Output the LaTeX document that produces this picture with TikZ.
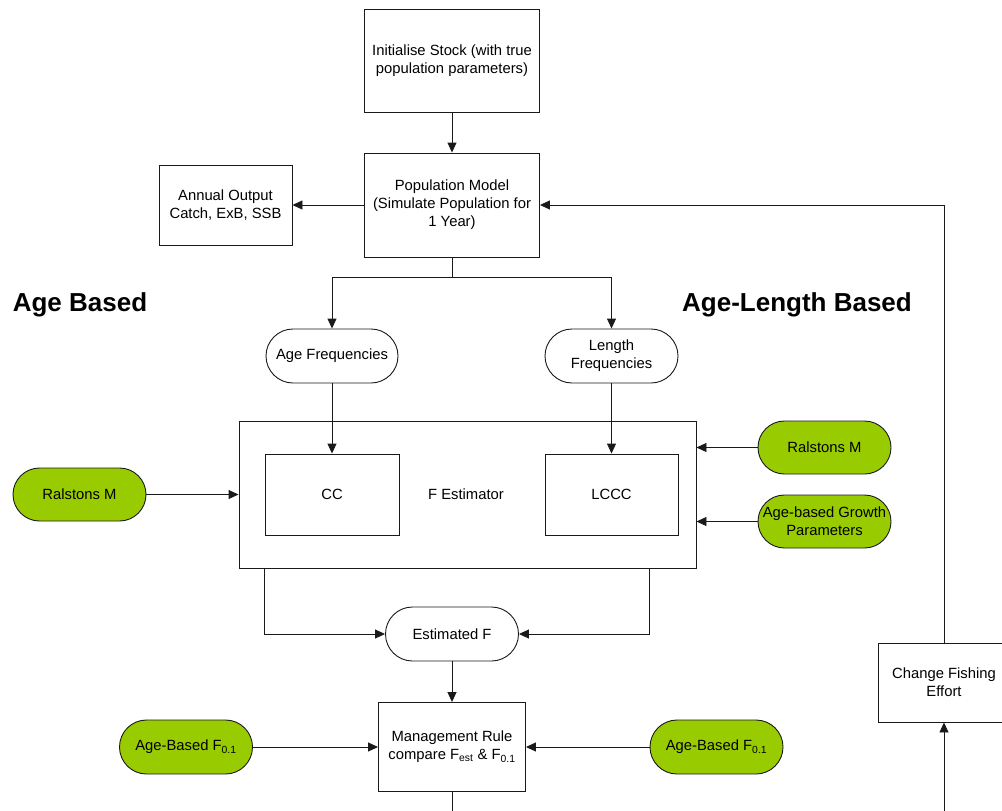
\documentclass[tikz,border=0pt]{standalone}
\usepackage{fontspec}
\setmainfont{Liberation Sans}
\usetikzlibrary{arrows.meta,calc}
\definecolor{leaf}{HTML}{99CC00}
\definecolor{ink}{HTML}{1A1A1A}
\tikzset{
  every node/.style={font=\fontsize{14.8}{18}\selectfont, align=center, inner sep=0pt},
  procbox/.style={draw=ink, line width=0.9pt, rectangle, fill=white},
  pill/.style={draw=ink, line width=0.9pt, rectangle, rounded corners=#1, fill=white},
  gpill/.style={pill=#1, fill=leaf},
  link/.style={draw=ink, line width=0.9pt},
  arr/.style={link, -{Triangle[length=10pt,width=9pt]}},
  heading/.style={font=\fontsize{26}{30}\selectfont\bfseries, anchor=base}
}
\begin{document}
\begin{tikzpicture}[x=1pt,y=-1pt]
\useasboundingbox (0,0) rectangle (1002,811);
\clip (0,0) rectangle (1002,811);

% main column
\node[procbox, minimum width=175pt, minimum height=103pt] (init) at (452,60.5)
  {Initialise Stock (with true\\population parameters)};
\node[procbox, minimum width=175pt, minimum height=104pt] (pop) at (452,205)
  {Population Model\\(Simulate Population for\\1 Year)};
\node[procbox, minimum width=133pt, minimum height=80pt] (annual) at (225.5,205)
  {Annual Output\\Catch, ExB, SSB};

% section headings
\node[heading] (hage) at (80,311) {Age Based};
\node[heading] (hlen) at (797,311) {Age-Length Based};

% frequency data
\node[pill=27pt, minimum width=132pt, minimum height=54pt] (agefreq) at (332,356) {Age Frequencies};
\node[pill=27pt, minimum width=133pt, minimum height=54pt] (lenfreq) at (611.5,356) {Length\\Frequencies};

% estimator block
\node[procbox, minimum width=457pt, minimum height=147pt] (fest) at (467.5,494.5) {};
\node (festlabel) at (466,494) {F Estimator};
\node[procbox, minimum width=134pt, minimum height=81pt] (cc) at (332,494.5) {CC};
\node[procbox, minimum width=133pt, minimum height=81pt] (lccc) at (611.5,494.5) {LCCC};

% external inputs
\node[gpill=26.5pt, minimum width=133pt, minimum height=53pt] (ralL) at (79.5,494.5) {Ralstons M};
\node[gpill=26.5pt, minimum width=133pt, minimum height=53pt] (ralR) at (824.5,447.5) {Ralstons M};
\node[gpill=26.5pt, minimum width=133pt, minimum height=53pt] (growth) at (824.5,521.5) {Age-based Growth\\Parameters};

% estimate and management
\node[pill=27pt, minimum width=133pt, minimum height=54pt] (estf) at (452,634) {Estimated F};
\node[procbox, minimum width=147pt, minimum height=89pt] (mgmt) at (452,747)
  {Management Rule\\compare F\textsubscript{est} \& F\textsubscript{0.1}};
\node[gpill=27pt, minimum width=133pt, minimum height=54pt] (f01L) at (186,747) {Age-Based F\textsubscript{0.1}};
\node[gpill=27pt, minimum width=133pt, minimum height=54pt] (f01R) at (716.5,747) {Age-Based F\textsubscript{0.1}};
\node[procbox, minimum width=132pt, minimum height=79pt] (change) at (944,682.5)
  {Change Fishing\\Effort};

% connectors
\coordinate (split) at (452,277);
\coordinate (rdrop) at (649,568);
\coordinate (mbot) at (452,830);
\coordinate (cbot) at (944,830);

\draw[arr] (init) -- (pop);
\draw[arr] (pop) -- (annual);
\draw[arr] (change.north) |- (pop.east);
\draw[link] (pop.south) -- (split);
\draw[arr] (split) -| (agefreq.north);
\draw[arr] (split) -| (lenfreq.north);
\draw[arr] (agefreq.south) -- (cc.north);
\draw[arr] (lenfreq.south) -- (lccc.north);
\draw[arr] (ralL.east) -- (ralL.east -| fest.west);
\draw[arr] (ralR.west) -- (ralR.west -| fest.east);
\draw[arr] (growth.west) -- (growth.west -| fest.east);
\draw[arr] (fest.south -| cc.west) |- (estf.west);
\draw[arr] (rdrop) |- (estf.east);
\draw[arr] (estf.south) -- (mgmt.north);
\draw[arr] (f01L.east) -- (mgmt.west);
\draw[arr] (f01R.west) -- (mgmt.east);
\draw[link] (mgmt.south) -- (mbot);
\draw[arr] (cbot) -- (change.south);
\end{tikzpicture}
\end{document}
